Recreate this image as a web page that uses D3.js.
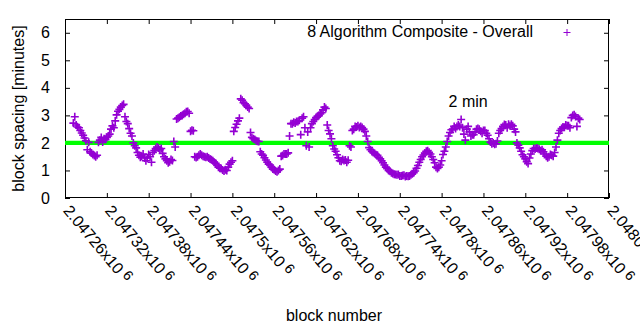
<!DOCTYPE html>
<html><head><meta charset="utf-8">
<script src="https://cdn.jsdelivr.net/npm/d3@7"></script>
<style>
body{margin:0;background:#fff}
svg{display:block}
text{font-family:"Liberation Sans",Arial,sans-serif;fill:#000}
</style>
</head><body>
<script>
// ---- data ----
const blockStart = 2047272;   // first plotted block
const blockStep = 2;          // plotted every 2nd block
const spacing = [
2.72,2.95,2.65,2.58,2.55,2.45,2.36,2.28,2.18,2.08,1.75,2.02,1.68,1.63,1.58,1.54,1.5,1.55,2.02,2.1,
2.2,2.03,2.15,2.12,2.2,2.25,2.32,2.5,2.62,2.55,2.8,3.02,3.15,3.22,3.3,3.36,3.4,2.95,2.78,2.7,
2.52,2.35,2.25,2.0,1.9,1.82,1.65,1.55,1.48,1.52,1.6,1.45,1.35,1.45,1.58,1.5,1.3,1.65,1.72,1.8,
1.85,1.82,1.75,1.8,1.62,1.5,1.42,1.35,1.28,1.32,1.4,1.36,2.05,1.85,2.87,2.9,2.93,2.98,3.0,3.04,
3.08,3.13,3.14,3.08,2.42,2.46,2.44,1.5,1.47,1.5,1.55,1.6,1.55,1.52,1.5,1.48,1.5,1.45,1.42,1.39,
1.35,1.3,1.26,1.2,1.12,1.08,1.07,1.02,0.98,1.03,1.0,1.12,1.23,1.3,1.35,2.42,2.56,2.68,2.8,2.9,
3.6,3.55,3.46,3.42,3.37,3.3,3.25,2.38,2.2,2.15,2.12,2.08,2.06,2.05,1.68,1.6,1.55,1.46,1.38,1.3,
1.23,1.2,1.12,1.05,1.03,0.98,0.95,1.0,1.05,1.52,1.54,1.6,1.6,1.6,1.64,2.25,2.7,2.7,2.75,2.72,
2.78,2.78,2.82,2.3,2.9,2.95,2.55,1.9,2.4,1.85,2.55,2.7,2.78,2.85,2.92,2.97,3.0,3.05,3.1,3.2,
3.3,3.25,2.65,2.45,2.33,2.15,1.9,1.78,1.7,1.57,1.46,1.35,1.33,1.4,1.36,1.38,1.3,1.37,1.9,1.85,
2.45,2.5,2.6,2.58,2.62,2.56,2.6,2.56,2.5,2.42,2.25,2.05,1.83,1.75,1.69,1.65,1.62,1.57,1.55,1.48,
1.42,1.35,1.28,1.2,1.12,1.06,1.0,0.97,0.92,0.89,0.86,0.85,0.84,0.85,0.8,0.8,0.82,0.83,0.78,0.8,
0.79,0.8,0.84,0.88,0.92,0.98,1.08,1.18,1.3,1.4,1.5,1.56,1.63,1.7,1.72,1.66,1.6,1.5,1.4,1.28,
1.12,1.07,1.12,1.2,1.35,1.58,1.7,1.85,2.05,2.25,2.38,2.48,2.5,2.6,2.52,2.6,2.65,2.6,2.85,2.55,
2.32,2.1,2.5,2.6,2.4,2.25,2.3,2.3,2.4,2.5,2.52,2.5,2.42,2.35,2.45,2.45,2.35,2.28,2.15,2.03,
1.97,2.0,1.95,1.97,2.07,2.35,2.45,2.52,2.6,2.67,2.65,2.55,2.68,2.62,2.68,2.62,2.5,2.4,2.0,1.92,
1.82,1.7,1.57,1.5,1.42,1.32,1.25,1.45,1.6,1.72,1.8,1.78,1.82,1.8,1.77,1.72,1.75,1.68,1.6,1.52,
1.46,1.5,1.58,1.55,1.52,1.65,1.85,2.1,2.35,2.45,2.52,2.58,2.57,2.65,2.62,2.62,2.55,2.92,3.0,3.02,
2.96,2.6,2.9,2.85
];
const blocks = spacing.map((_, i) => blockStart + i * blockStep);
const xTickValues = [2047260,2047320,2047380,2047440,2047500,2047560,2047620,2047680,2047740,2047800,2047860,2047920,2047980,2048040];
const xTickLabels = ["2.04726","2.04732","2.04738","2.04744","2.0475","2.04756","2.04762","2.04768","2.04774","2.0478","2.04786","2.04792","2.04798","2.04804"];
const yTickValues = [0,1,2,3,4,5,6];
const targetMinutes = 2;
const seriesName = "8 Algorithm Composite - Overall";
const annotationText = "2 min";
const annotationPos = [2047800, 3.45];
const xTitle = "block number";
const yTitle = "block spacing [minutes]";

// ---- layout ----
const W = 640, H = 330;
const L = 65, R = 609, T = 19, B = 198;
const violet = "#9400d3", green = "#00ff00";

const svg = d3.select("body").append("svg").attr("width", W).attr("height", H);

const x = d3.scaleLinear().domain([2047260, 2048040]).range([L, R]);
const y = d3.scaleLinear().domain([0, 6.5]).range([B, T]);

// axes (ticks inward)
const tick = 5;
const gB = svg.append("g").attr("transform", `translate(0,${B})`)
  .call(d3.axisBottom(x).tickValues(xTickValues).tickSizeInner(-tick).tickSizeOuter(0).tickFormat(""));
const gT = svg.append("g").attr("transform", `translate(0,${T})`)
  .call(d3.axisTop(x).tickValues(xTickValues).tickSizeInner(-tick).tickSizeOuter(0).tickFormat(""));
const gL = svg.append("g").attr("transform", `translate(${L},0)`)
  .call(d3.axisLeft(y).tickValues(yTickValues).tickSizeInner(-tick).tickSizeOuter(0).tickPadding(15).tickFormat(d3.format("d")));
const gR = svg.append("g").attr("transform", `translate(${R},0)`)
  .call(d3.axisRight(y).tickValues(yTickValues).tickSizeInner(-tick).tickSizeOuter(0).tickFormat(""));
[gB, gT, gL, gR].forEach(g => {
  g.select(".domain").remove();
  g.selectAll("line").attr("stroke", "#000").attr("stroke-width", 1);
});
gL.selectAll("text").attr("font-size", 16).attr("font-family", "Liberation Sans, Arial, sans-serif").attr("fill", "#000");

// rotated x tick labels
gB.selectAll(".tick").each(function(d, i) {
  const t = d3.select(this).append("text")
    .attr("text-anchor", "start")
    .attr("font-size", 16)
    .attr("font-family", "Liberation Sans, Arial, sans-serif")
    .attr("fill", "#000")
    .attr("transform", "translate(-3,13) rotate(50)");
  t.append("tspan").text(xTickLabels[i] + "x10");
  t.append("tspan").attr("dx", 4).attr("dy", -4).attr("font-size", 14).text("6");
});

// border
svg.append("rect").attr("x", L + 0.5).attr("y", T + 0.5).attr("width", R - L - 1).attr("height", B - T - 1)
  .attr("fill", "none").attr("stroke", "#000").attr("stroke-width", 1);

// target line
svg.append("line")
  .attr("x1", x(2047260)).attr("x2", x(2048040))
  .attr("y1", y(targetMinutes)).attr("y2", y(targetMinutes))
  .attr("stroke", green).attr("stroke-width", 4.3);

// points (plus markers)
const plus = (s) => `M${-s},0H${s}M0,${-s}V${s}`;
svg.append("g").selectAll("path").data(blocks.map((b, i) => [b, spacing[i]])).join("path")
  .attr("transform", d => `translate(${x(d[0])},${y(d[1])})`)
  .attr("d", plus(4))
  .attr("stroke", violet).attr("stroke-width", 1.6).attr("fill", "none");

// legend
svg.append("text").attr("x", 533).attr("y", 37).attr("text-anchor", "end").attr("font-size", 16).text(seriesName);
svg.append("path").attr("transform", "translate(567,32.5)").attr("d", plus(3.5))
  .attr("stroke", violet).attr("stroke-width", 1).attr("fill", "none");

// annotation
svg.append("text").attr("x", x(annotationPos[0]) + 7).attr("y", y(annotationPos[1]) + 4).attr("font-size", 16).text(annotationText);

// axis titles
svg.append("text").attr("x", (L + R) / 2 - 3).attr("y", 321).attr("text-anchor", "middle").attr("font-size", 16).text(xTitle);
svg.append("text").attr("transform", `translate(24,${(T + B) / 2}) rotate(-90)`).attr("text-anchor", "middle").attr("font-size", 16).text(yTitle);
</script>
</body></html>
